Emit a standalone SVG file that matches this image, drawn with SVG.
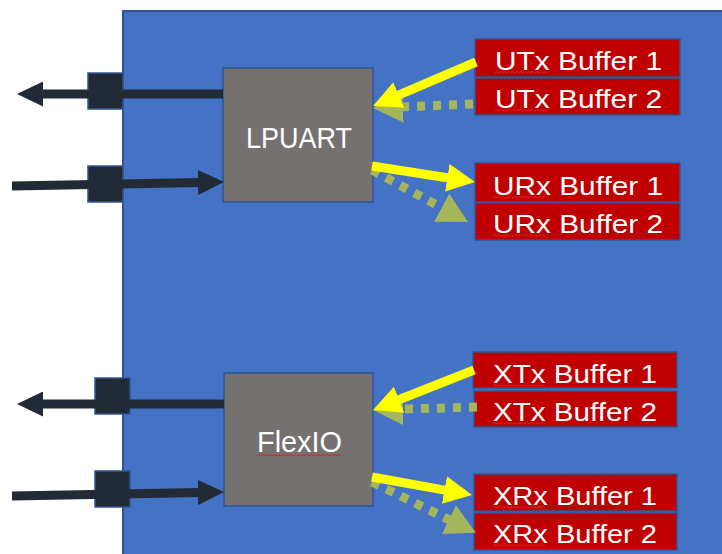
<svg xmlns="http://www.w3.org/2000/svg" width="722" height="554" viewBox="0 0 722 554">
  <style>
    .panel{fill:#4472C4;stroke:#2F5597;stroke-width:2}
    .ip{fill:#767171;stroke:#2F5597;stroke-width:1.5}
    .pin{fill:#222A35;stroke:#2F5597;stroke-width:1.5}
    .buf{fill:#C00000;stroke:#2F5597;stroke-width:1.5}
    .lbl{font-family:"Liberation Sans",Arial,sans-serif;fill:#FFFFFF}
    .ipt{font-size:29px}
    .bt{font-size:26px}
    .sig{fill:none;stroke:#222A35;stroke-width:9}
    .ys{fill:none;stroke:#FFFF00;stroke-width:9}
    .od{fill:none;stroke:#A5B55B;stroke-width:9;stroke-dasharray:8 8}
    .wave{fill:none;stroke:#E02020;stroke-width:1}
  </style>
  <defs>
    <marker id="dh" markerUnits="userSpaceOnUse" markerWidth="26" markerHeight="25" refX="2" refY="12.5" orient="auto">
      <path d="M0,0 L26,12.5 L0,25 z" fill="#222A35"/>
    </marker>
    <marker id="yh" markerUnits="userSpaceOnUse" markerWidth="28" markerHeight="28" refX="3" refY="14" orient="auto">
      <path d="M0,0 L28,14 L0,28 z" fill="#FFFF00"/>
    </marker>
    <marker id="oh" markerUnits="userSpaceOnUse" markerWidth="30" markerHeight="32" refX="3" refY="16" orient="auto">
      <path d="M0,0 L30,16 L0,32 z" fill="#A5B55B"/>
    </marker>
    <path id="w50" class="wave" d="M0 0 l2 -1.5 l2 1.5 l2 -1.5 l2 1.5 l2 -1.5 l2 1.5 l2 -1.5 l2 1.5 l2 -1.5 l2 1.5 l2 -1.5 l2 1.5 l2 -1.5 l2 1.5 l2 -1.5 l2 1.5 l2 -1.5 l2 1.5 l2 -1.5 l2 1.5 l2 -1.5 l2 1.5 l2 -1.5 l2 1.5 l2 -1.5 l2 1.5"/>
    <path id="w84" class="wave" d="M0 0 l2 -1.5 l2 1.5 l2 -1.5 l2 1.5 l2 -1.5 l2 1.5 l2 -1.5 l2 1.5 l2 -1.5 l2 1.5 l2 -1.5 l2 1.5 l2 -1.5 l2 1.5 l2 -1.5 l2 1.5 l2 -1.5 l2 1.5 l2 -1.5 l2 1.5 l2 -1.5 l2 1.5 l2 -1.5 l2 1.5 l2 -1.5 l2 1.5 l2 -1.5 l2 1.5 l2 -1.5 l2 1.5 l2 -1.5 l2 1.5 l2 -1.5 l2 1.5 l2 -1.5 l2 1.5 l2 -1.5 l2 1.5 l2 -1.5 l2 1.5 l2 -1.5 l2 1.5"/>
  </defs>

  <rect id="chip" class="panel" x="123" y="11" width="620" height="560"/>

  <g id="pin-lpuart-tx"><rect class="pin" x="88" y="73" width="35" height="36"/></g>
  <g id="pin-lpuart-rx"><rect class="pin" x="88" y="166" width="35" height="36"/></g>
  <g id="pin-flexio-tx"><rect class="pin" x="95" y="378" width="35" height="36"/></g>
  <g id="pin-flexio-rx"><rect class="pin" x="95" y="471" width="35" height="36"/></g>

  <g id="lpuart">
    <rect class="ip" x="223" y="68" width="150" height="134"/>
    <text class="lbl ipt" x="246" y="148" textLength="106" lengthAdjust="spacingAndGlyphs">LPUART</text>
  </g>
  <g id="flexio">
    <rect class="ip" x="224" y="373" width="149" height="133"/>
    <text class="lbl ipt" x="257" y="452" textLength="85" lengthAdjust="spacingAndGlyphs">FlexIO</text>
    <use href="#w84" x="257" y="456"/>
  </g>

  <g id="utx1">
    <rect class="buf" x="475" y="39" width="205" height="38"/>
    <text class="lbl bt" x="495" y="70" textLength="167" lengthAdjust="spacingAndGlyphs">UTx Buffer 1</text>
    <use href="#w50" x="495" y="73"/>
  </g>
  <g id="utx2">
    <rect class="buf" x="475" y="78" width="205" height="37"/>
    <text class="lbl bt" x="495" y="108" textLength="167" lengthAdjust="spacingAndGlyphs">UTx Buffer 2</text>
    <use href="#w50" x="495" y="111"/>
  </g>
  <g id="urx1">
    <rect class="buf" x="475" y="163" width="205" height="39"/>
    <text class="lbl bt" x="493" y="195" textLength="170" lengthAdjust="spacingAndGlyphs">URx Buffer 1</text>
    <use href="#w50" x="493" y="198"/>
  </g>
  <g id="urx2">
    <rect class="buf" x="475" y="203" width="205" height="37"/>
    <text class="lbl bt" x="493" y="233" textLength="170" lengthAdjust="spacingAndGlyphs">URx Buffer 2</text>
    <use href="#w50" x="493" y="236"/>
  </g>
  <g id="xtx1">
    <rect class="buf" x="473" y="352" width="204" height="36"/>
    <text class="lbl bt" x="493" y="383" textLength="164" lengthAdjust="spacingAndGlyphs">XTx Buffer 1</text>
    <use href="#w50" x="493" y="386"/>
  </g>
  <g id="xtx2">
    <rect class="buf" x="474" y="391" width="203" height="36"/>
    <text class="lbl bt" x="493" y="421" textLength="164" lengthAdjust="spacingAndGlyphs">XTx Buffer 2</text>
    <use href="#w50" x="493" y="424"/>
  </g>
  <g id="xrx1">
    <rect class="buf" x="474" y="474" width="203" height="37"/>
    <text class="lbl bt" x="493" y="505" textLength="164" lengthAdjust="spacingAndGlyphs">XRx Buffer 1</text>
    <use href="#w50" x="493" y="508"/>
  </g>
  <g id="xrx2">
    <rect class="buf" x="474" y="513" width="203" height="37"/>
    <text class="lbl bt" x="493" y="543" textLength="164" lengthAdjust="spacingAndGlyphs">XRx Buffer 2</text>
    <use href="#w50" x="493" y="546"/>
  </g>

  <g id="connectors">
    <path class="sig" d="M223,94 L41,94" marker-end="url(#dh)"/>
    <path class="sig" d="M12,186 L200,182.45" marker-end="url(#dh)"/>
    <path class="sig" d="M224,404 L41,404" marker-end="url(#dh)"/>
    <path class="sig" d="M12,496 L200,492.45" marker-end="url(#dh)"/>

    <path class="od" d="M473,104 L400,107" marker-end="url(#oh)"/>
    <path class="ys" d="M476,62 L396.1,96.2" marker-end="url(#yh)"/>
    <path class="od" d="M372,170 L444.3,209.1" marker-end="url(#oh)"/>
    <path class="ys" d="M372,166 L450.3,178.2" marker-end="url(#yh)"/>

    <path class="od" d="M477,407 L400,409.2" marker-end="url(#oh)"/>
    <path class="ys" d="M474,370 L396.3,400.8" marker-end="url(#yh)"/>
    <path class="od" d="M372,482 L451.6,520.9" marker-end="url(#oh)"/>
    <path class="ys" d="M372,477 L447.4,490.6" marker-end="url(#yh)"/>
  </g>
</svg>
